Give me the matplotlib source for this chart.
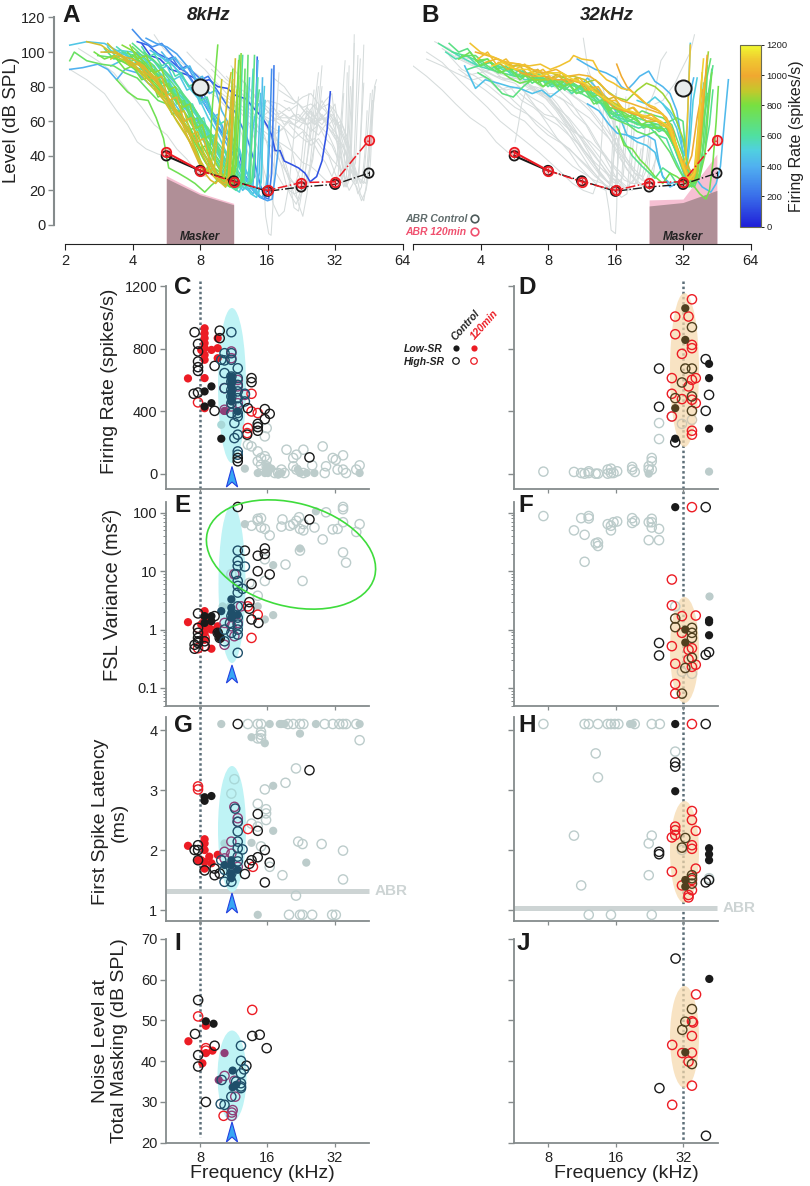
#!/usr/bin/env python3
"""Tuning curves and response metrics for units near the 8 kHz and 32 kHz maskers."""

import numpy as np
import matplotlib
matplotlib.use("Agg")
import matplotlib.pyplot as plt
from matplotlib.colors import LinearSegmentedColormap
from matplotlib.patches import Ellipse, Polygon
from matplotlib.cm import ScalarMappable

plt.rcParams['font.family'] = ['Liberation Sans', 'DejaVu Sans']

W, H = 810, 1186

# --- tuning curves: flat lists f, level, f, level ... and firing rate of each
a_rates = [130, 180, 300, 360, 400, 470, 450, 520, 560, 600, 640, 700, 730, 760, 780, 800, 820, 700, 660,
           900, 930, 920, 950, 940, 800, 500, 430, 620,
           540, 480, 580, 650, 720, 780, 830, 910, 960, 440, 240, 470]
a_curves = [
    [4.4,105, 4.8,98, 5.3,96, 5.9,90, 6.6,88, 7.3,86, 8,83, 8.8,84, 9.6,80, 10.6,79, 11.5,75, 12.8,73, 14,67, 15.2,62, 16,57, 16.7,52, 17.3,43, 18.2,43, 19,37, 20.5,35, 22,33, 23.5,30, 24.8,25, 26.5,28, 28,37, 29.5,55, 30.5,77],
    [4.2,106, 4.7,104, 5.2,99, 5.8,96, 6.3,92, 7,88, 7.7,80, 8.2,72, 8.9,64, 9.8,55, 10.8,48, 12,42, 12.5,30, 13.4,24, 14,28, 14.2,60, 14.4,97],
    [4,113, 4.4,107, 4.9,103, 5.4,105, 6,98, 6.6,92, 7.2,85, 8,76, 8.8,68, 9.5,58, 10.5,50, 11.5,42, 12.5,30, 13.5,22, 14.5,17, 15.5,15, 16,22, 16.4,55, 16.7,90],
    [4.6,108, 5.1,105, 5.7,103, 6.3,99, 7,92, 7.6,84, 8.3,76, 9,66, 10,58, 10.8,46, 11.7,36, 12.8,26, 13.8,20, 14.8,16, 16,14, 16.8,15, 17.3,28, 17.8,42, 18,57],
    [2.1,90, 2.4,91, 2.8,93, 3.1,90, 3.4,84, 3.7,90, 4.2,88, 4.7,82, 5.3,78, 5.9,75, 6.5,72, 7.1,66, 7.8,60, 8.6,52, 9.5,44, 10.5,36, 11.5,28, 12.4,22, 13.2,20, 13.8,24, 14.1,50, 14.3,80, 14.5,95],
    [2.1,104, 2.5,106, 3,105, 3.5,100, 4,96, 4.5,92, 5.1,88, 5.7,82, 6.3,74, 7,66, 7.7,58, 8.4,48, 9.2,40, 10,32, 11,26, 12,22, 12.7,26, 13,55, 13.3,85],
    [3.2,92, 3.7,96, 4.2,99, 4.7,97, 5.3,92, 5.8,86, 6.4,80, 7,72, 7.6,66, 8.2,60, 9,50, 9.8,44, 10.6,36, 11.5,28, 12.4,20, 13.2,24, 13.6,50, 14,62, 14.6,70],
    [3,100, 3.5,101, 4,100, 4.5,96, 5,91, 5.6,85, 6.2,78, 6.9,72, 7.6,65, 8.3,56, 9.1,46, 9.9,38, 10.7,28, 11.4,21, 12,19, 12.4,27, 12.7,55, 12.9,76],
    [3.4,103, 3.9,97, 4.4,94, 4.9,89, 5.5,84, 6,79, 6.7,73, 7.4,66, 8.1,60, 8.8,52, 9.6,42, 10.4,33, 11,25, 11.6,21, 12.1,24, 12.5,40, 12.9,63],
    [3.6,100, 4.1,98, 4.6,94, 5.1,88, 5.7,82, 6.3,75, 6.9,70, 7.5,62, 8.1,53, 8.8,44, 9.6,36, 10.3,28, 11,24, 11.7,26, 12,50, 12.3,88, 12.4,98],
    [4,105, 4.5,99, 5,95, 5.6,87, 6.2,80, 6.8,74, 7.5,68, 8.2,60, 9,52, 9.8,46, 10.6,40, 11.5,32, 12.3,26, 13,23, 13.6,25, 14,42, 14.4,70, 14.7,78],
    [2.8,98, 3.2,97, 3.6,95, 4.1,90, 4.6,86, 5.1,80, 5.7,72, 6.2,64, 6.9,58, 7.5,50, 8.2,42, 8.9,36, 9.6,30, 10.2,24, 10.9,22, 11.4,26, 11.7,60, 11.9,90, 12,98],
    [2.1,95, 2.2,100, 2.5,95, 2.9,93, 3.3,92, 3.7,88, 4.2,85, 4.7,78, 5.2,72, 5.7,70, 6.4,66, 7.1,58, 7.8,48, 8.4,40, 9.1,32, 9.8,27, 10.4,22, 10.9,28, 11.2,55, 11.4,80],
    [3.4,84, 3.8,77, 4.2,73, 4.7,72, 5.1,62, 5.5,50, 5.8,33, 6.4,30, 7,27, 7.6,24, 8.4,19, 9,23, 9.6,26, 10.2,29, 10.6,24, 11,46, 11.3,70],
    [3.8,100, 4.3,92, 4.8,85, 5.4,78, 6,70, 6.6,62, 7.2,52, 7.8,42, 8.2,34, 8.5,30, 8.8,38, 9.1,70, 9.4,90, 9.6,104],
    [3.3,97, 3.8,93, 4.3,89, 4.8,83, 5.3,78, 5.9,72, 6.5,62, 7.1,54, 7.7,46, 8.3,38, 8.9,32, 9.5,26, 10.1,24, 10.6,30, 11,68, 11.2,90],
    [3.6,104, 4.1,100, 4.6,93, 5.1,86, 5.7,80, 6.3,72, 6.9,64, 7.5,56, 8.1,47, 8.7,40, 9.3,33, 9.9,30, 10.5,27, 11.1,24, 11.6,34, 12,70, 12.2,99],
    [4,103, 4.5,97, 5,92, 5.5,84, 6.1,76, 6.8,70, 7.4,61, 8,54, 8.7,48, 9.4,40, 10.2,34, 11,28, 11.8,23, 12.5,27, 12.9,60, 13.1,98],
    [4.5,100, 5,95, 5.5,90, 6.1,84, 6.7,76, 7.3,70, 8,62, 8.7,56, 9.4,48, 10.1,40, 11,33, 11.9,26, 12.7,23, 13.4,25, 13.7,60, 14,98],
    [3.3,98, 3.7,95, 4.2,90, 4.7,82, 5.2,76, 5.7,70, 6.3,60, 6.9,52, 7.5,44, 8,36, 8.6,30, 9,36, 9.4,52, 9.8,68, 10,84],
    [2.5,106, 2.9,104, 3.2,100, 3.6,98, 4,92, 4.5,88, 5,80, 5.5,74, 6,68, 6.6,60, 7.2,52, 7.8,40, 8.4,33, 8.9,30, 9.4,27, 9.8,30, 10.2,52, 10.6,74, 11,88],
    [3.1,105, 3.5,98, 4,94, 4.4,88, 4.9,82, 5.4,74, 5.9,66, 6.5,58, 7.1,50, 7.7,42, 8.2,34, 8.8,30, 9.3,34, 9.6,58, 9.9,76],
    [3.5,98, 4,96, 4.5,92, 5,84, 5.6,76, 6.1,66, 6.7,58, 7.3,46, 7.9,36, 8.4,30, 8.9,26, 9.4,24, 9.9,28, 10.3,50, 10.6,60],
    [2.9,100, 3.4,100, 3.9,94, 4.4,92, 4.9,87, 5.4,80, 6,70, 6.6,62, 7.2,54, 7.8,46, 8.4,38, 9,30, 9.6,26, 10.4,22, 10.9,30, 11.3,70, 11.5,96],
    [4,98, 4.5,93, 5,85, 5.5,78, 6.1,68, 6.7,60, 7.3,54, 7.9,44, 8.5,36, 9.1,30, 9.7,26, 10.3,25, 10.9,24, 11.3,40, 11.7,75, 11.9,95],
    [5,100, 5.5,96, 6.1,92, 6.7,85, 7.3,78, 8,72, 8.7,62, 9.5,54, 10.3,44, 11.1,36, 12,30, 12.8,22, 13.5,18, 14.3,16, 15,25, 15.3,65, 15.5,80],
    [4.8,101, 5.4,97, 6,93, 6.5,88, 7.2,80, 7.9,74, 8.6,68, 9.4,58, 10.2,50, 11,42, 11.9,36, 12.7,28, 13.5,22, 14.2,18, 14.7,30, 15,55, 15.2,85],
    [3.9,92, 4.4,90, 4.9,86, 5.4,80, 6,74, 6.6,68, 7.3,60, 8,52, 8.7,44, 9.4,36, 10.2,28, 11,22, 11.6,20, 12.2,24, 12.5,50, 12.7,82],
    [3.1,103, 3.4,97, 3.7,100, 4,93, 4.3,95, 4.7,88, 5,90, 5.4,82, 5.8,84, 6.2,75, 6.6,77, 7,68, 7.4,70, 7.9,60, 8.3,62, 8.8,50, 9.3,52, 9.8,41, 10.3,43, 10.9,32, 11.4,34, 12,25, 12.6,21, 13.1,24, 13.4,46, 13.6,74, 13.8,90],
    [3.9,96, 4.2,100, 4.5,93, 4.9,96, 5.3,90, 5.7,92, 6.1,84, 6.5,86, 7,78, 7.5,80, 8,70, 8.5,72, 9,62, 9.6,64, 10.2,52, 10.8,54, 11.4,42, 12,44, 12.7,32, 13.4,26, 14,20, 14.6,18, 15,26, 15.3,58, 15.6,72],
    [4.4,103, 4.7,97, 5,99, 5.4,92, 5.8,94, 6.2,86, 6.6,88, 7.1,80, 7.6,82, 8.1,72, 8.6,74, 9.1,64, 9.7,58, 10.3,60, 10.9,48, 11.5,40, 12.1,32, 12.8,24, 13.4,22, 13.9,28, 14.2,60, 14.5,85],
    [3,102, 3.3,96, 3.6,98, 4,92, 4.4,94, 4.8,84, 5.2,86, 5.6,76, 6,78, 6.5,68, 7,70, 7.5,58, 8,60, 8.5,50, 9.1,52, 9.7,42, 10.3,36, 10.9,30, 11.5,26, 12,22, 12.5,24, 12.8,52, 13,80],
    [3.5,99, 3.8,94, 4.2,96, 4.6,88, 5,90, 5.4,80, 5.8,82, 6.3,70, 6.8,72, 7.3,60, 7.8,62, 8.3,50, 8.9,52, 9.4,40, 10,34, 10.6,28, 11.2,24, 11.8,22, 12.3,26, 12.5,55, 12.7,90],
    [2.7,100, 3,96, 3.3,98, 3.7,90, 4,92, 4.4,84, 4.8,86, 5.2,74, 5.6,76, 6,64, 6.5,66, 7,54, 7.5,56, 8,44, 8.5,46, 9,36, 9.5,30, 10,26, 10.5,24, 10.9,22, 11.2,34, 11.5,62],
    [3.9,104, 4.2,96, 4.6,98, 5,88, 5.4,90, 5.8,78, 6.2,80, 6.7,68, 7.2,70, 7.7,56, 8.2,58, 8.7,46, 9.2,38, 9.8,32, 10.3,26, 10.8,23, 11.2,26, 11.5,50, 11.7,78],
    [3.2,96, 3.5,99, 3.9,92, 4.3,94, 4.7,84, 5.1,86, 5.5,74, 5.9,76, 6.3,64, 6.8,66, 7.3,52, 7.8,54, 8.3,42, 8.8,36, 9.3,30, 9.8,28, 10.2,26, 10.6,40, 10.9,66, 11.2,84],
    [4.2,94, 4.6,88, 5,84, 5.4,86, 5.8,72, 6.3,74, 6.8,60, 7.3,62, 7.8,48, 8.3,50, 8.8,38, 9.3,32, 9.8,26, 10.3,24, 10.7,28, 11,52, 11.2,78],
    [5.4,100, 5.8,95, 6.2,97, 6.7,90, 7.2,92, 7.7,84, 8.2,86, 8.8,76, 9.4,78, 10,66, 10.6,60, 11.2,50, 11.9,44, 12.6,34, 13.4,26, 14.2,20, 15,16, 15.6,18, 16,30, 16.3,60],
    [5.6,95, 6,97, 6.5,90, 7,92, 7.5,88, 8.1,84, 8.7,86, 9.3,80, 10,74, 10.7,68, 11.4,66, 12.2,58, 13,50, 13.9,38, 14.8,24, 15.5,16, 16.2,15, 16.7,30, 17,70, 17.1,92],
    [6,72, 6.5,66, 7,68, 7.6,60, 8.2,54, 8.8,46, 9.4,48, 10,38, 10.7,32, 11.4,28, 12.2,24, 13,22, 13.8,18, 14.3,22, 14.6,46, 14.9,76],
]
a_gray = [
    [2.1,90, 2.5,84, 3,76, 3.4,66, 3.8,58, 4.2,48, 4.6,44, 5.2,41, 5.6,40, 6,38],
    [2.3,102, 2.8,95, 3.3,88, 3.8,78, 4.4,68, 5,58, 5.7,52, 6.3,44, 7,38, 7.8,30, 8.5,28, 9,40],
    [5,110, 5.5,102, 6,98, 6.6,94, 7.2,90, 8,86, 9,80, 10,74, 11,70, 12.5,66, 14,60, 15.5,52, 16.5,40, 17.5,30, 19,22, 21,18, 23,20, 25,35, 27,60, 28,80],
    [7,100, 7.6,95, 8.4,90, 9.2,84, 10.2,78, 11.2,72, 12.5,68, 14,62, 15,52, 15.7,5, 16.2,-5, 16.6,-6, 16.9,10, 17.2,40, 17.6,70],
    [9,90, 10,84, 11,80, 12,74, 13.5,66, 15,60, 17,54, 18.5,44, 20,28, 21,10, 22,8, 23,22, 24.5,45, 26,70, 27,88],
    [12,85, 13.5,78, 15,70, 17,62, 19,60, 21,58, 23,55, 25,50, 27,42, 29,36, 31,28, 32.5,35, 34,60, 35.5,95],
    [14,74, 16,68, 18,62, 20,62, 22,60, 24,58, 26,60, 28,56, 30,52, 32,44, 34,30, 35.5,22, 37,30, 38,60, 39,105],
    [15,64, 17,60, 19,64, 21,58, 23,62, 25,54, 27,58, 29,50, 31,46, 33,38, 35,28, 37,20, 38.5,24, 39.5,60, 40.5,98],
    [13,60, 15,52, 16.5,46, 18,38, 19.5,30, 21,24, 22,12, 23,5, 24,18, 25,40, 26,62, 27,80],
    [16,72, 18,70, 20,66, 22,70, 24,64, 26,60, 28,62, 30,56, 32,50, 34,46, 36,34, 38,26, 40,22, 42,14, 44,20, 46,35, 47,60, 48,80, 49,84],
    [18,66, 20,62, 22,64, 24,58, 26,62, 28,68, 30,70, 32,62, 34,56, 36,48, 38,36, 40,24, 41,30, 42,58, 43,82],
    [17,85, 19,80, 21,72, 23,68, 25,70, 27,66, 29,72, 31,76, 32,60, 33,42, 34,28, 35,22, 36,28, 36.5,60, 37,92],
    [20,58, 22,52, 24,48, 26,50, 28,44, 30,40, 32,30, 33.5,24, 35,30, 35.8,60, 36.3,88],
    [11,92, 12,86, 13,80, 14.5,72, 16,66, 17.5,60, 19,56, 20.5,44, 21.5,32, 22.5,26, 24,24, 25.5,38, 27,68, 28,92],
    [6,94, 6.8,88, 7.6,82, 8.5,78, 9.5,74, 10.5,68, 11.5,62, 12.5,50, 13.5,36, 14.5,24, 15.5,20, 16.5,30, 17.5,62, 18,88],
    [24,64, 26,58, 28,62, 30,58, 32,54, 34,48, 36,42, 38,34, 40,28, 42,26, 44,24, 45.5,38, 47,66, 48.5,80],
    [10,76, 11,72, 12,66, 13,60, 14,50, 15,38, 16,24, 17,12, 18,5, 19,8, 20,24, 21,52, 22,74],
    [30,70, 32,66, 34,60, 36,52, 38,40, 40,30, 41.5,24, 43,28, 44.5,50, 46,76],
    [19,72, 21,70, 23,74, 25,76, 27,70, 29,66, 31,60, 33,50, 34.5,36, 36,22, 37.5,28, 38.5,70, 39,110],
    [13,70, 14.5,66, 16,72, 18,64, 20,68, 22,60, 24,66, 26,62, 28,58, 30,64, 32,60, 34,52, 36,40, 38,30, 39.5,36, 40.5,70, 41.5,96],
    [15,62, 17,68, 19,58, 21,64, 23,60, 25,66, 27,60, 29,62, 31,56, 33,46, 34.5,34, 36,24, 37,28, 37.8,56, 38.3,82],
    [16,58, 18,54, 20,60, 22,56, 24,62, 26,58, 28,64, 30,58, 32,62, 34,54, 36,46, 38,38, 40,28, 41.5,18, 43,14, 44.5,26, 46,50, 47,72],
    [18,78, 20,74, 22,70, 24,64, 26,70, 28,62, 30,66, 32,58, 34,60, 36,50, 37.5,40, 39,30, 40,24, 41,34, 42,64, 43,104],
    [14,58, 15.5,54, 17,50, 19,46, 21,42, 23,36, 25,34, 27,30, 29,26, 31,24, 33,28, 34,50, 35,76],
    [17,52, 19,56, 21,50, 23,54, 25,46, 27,50, 29,44, 31,38, 33,34, 35,30, 36.5,36, 37.5,64, 38.5,84],
    [22,62, 24,68, 26,62, 28,72, 30,64, 32,70, 33,58, 34,44, 35,30, 36,36, 36.8,58, 37.5,80],
    [25,56, 27,52, 29,58, 31,54, 33,50, 35,44, 37,36, 39,26, 40.5,18, 42,22, 43.5,42, 44.5,66],
    [12,74, 13.5,70, 15,64, 16.5,58, 18,46, 19,34, 20,26, 21,18, 22,14, 23,20, 24,38, 25,60, 25.8,78],
    [10.5,86, 11.5,80, 12.7,74, 14,68, 15.4,60, 17,48, 18.5,34, 19.5,22, 20.5,16, 21.5,12, 22.5,20, 23.5,44, 24.5,64],
    [8.5,96, 9.5,90, 10.5,84, 11.7,80, 13,76, 14.4,68, 16,60, 17.4,48, 18.8,36, 20,26, 21.3,24, 22.5,34, 23.5,58, 24.5,76],
    [27,66, 29,60, 31,64, 33,58, 35,50, 37,42, 39,32, 41,26, 43,24, 44.5,34, 46,58, 47,78],
]
b_rates = [1080, 420, 450, 430, 780, 620, 560, 700, 760, 640, 900, 1040, 1000, 1120, 1000, 670, 640, 850, 500, 480,
           660, 760, 1060, 580, 950, 720]
b_curves = [
    [3.6,105, 4,100, 4.6,97, 5.2,94, 5.9,93, 6.6,92, 7.4,93, 8.2,90, 9,92, 10,95, 10.4,98, 11.3,96, 12.7,95, 13.6,88, 14.6,84, 15.7,82, 17,79, 18.5,78, 20,75, 22,70, 24,68, 26,64, 28,58, 29.5,48, 31,40, 32,33, 33,40, 33.7,70, 34.5,104],
    [10.8,96, 11.8,93, 13,90, 14.5,88, 16,85, 17,80, 18,78, 19.3,82, 20.5,86, 22.5,89, 24,83, 26,80, 28,76, 30,66, 31,55, 32,40, 33,32, 34,50, 35,80, 35.7,85],
    [3.4,92, 3.8,79, 4.2,84, 4.8,82, 5.4,80, 6,79, 6.8,76, 7.5,78, 8.2,74, 9,78, 10,82, 11,80, 12,85, 13,80, 14,76, 15,72, 16.2,65, 17,60, 18,52, 20,48, 22,46, 24,42, 26,28, 28,24, 30,25],
    [12,70, 13.5,66, 15,58, 16.3,53, 18,52, 20,50, 22,52, 24,49, 25,36, 26,28, 28,22, 30,24, 33,30, 36,28, 39,22, 42.6,19, 45,24, 47,34, 49,60, 51,84],
    [16.5,55, 17.5,46, 19,44, 20.5,38, 22,34, 24,28, 26,24, 28,30, 30,28, 33,24, 36,22, 38,18, 40.5,15, 42,20, 43.5,36, 45,60, 46,80],
    [2.6,105, 3,100, 3.4,98, 3.9,95, 4.4,90, 5,88, 5.7,86, 6.5,86, 7.4,83, 8.4,85, 9.5,82, 10.7,80, 12,78, 13.5,72, 15,65, 16.5,62, 18.5,60, 20.5,58, 23,58, 25.5,56, 28,52, 30,42, 32,32, 33.5,24, 35,22, 37,34, 38.5,60, 40,82],
    [3,100, 3.4,96, 3.9,92, 4.4,94, 5,90, 5.6,88, 6.3,84, 7.1,85, 8,82, 9,80, 10,82, 11.3,78, 12.7,76, 14,70, 15.5,64, 17,60, 19,60, 21,58, 24,56, 27,54, 29,46, 31,36, 33,26, 35,24, 37,30, 38.5,55, 39.5,78, 41,92],
    [3.3,98, 3.8,98, 4.3,92, 4.8,88, 5.4,90, 6,86, 6.8,88, 7.7,86, 8.7,82, 9.8,84, 11,80, 12.4,80, 13.8,74, 15.2,70, 17,64, 19,62, 21,66, 23,64, 26,62, 28.5,58, 30,50, 32,40, 34,28, 36,25, 38,28, 39.5,50, 41,86, 42.5,96],
    [3.8,95, 4.3,96, 4.8,90, 5.4,85, 6,82, 6.8,84, 7.6,80, 8.5,84, 9.5,80, 10.7,84, 12,80, 13.5,77, 15,68, 17,66, 19,62, 21,58, 23,56, 26,56, 28,50, 30,44, 32,36, 34,30, 36,24, 38,28, 40,40, 41.5,66, 43,88],
    [3.5,90, 3.9,92, 4.4,94, 5,91, 5.6,90, 6.4,88, 7.2,86, 8.1,83, 9.1,84, 10.3,82, 11.5,78, 13,76, 14.5,72, 16,68, 18,66, 20,62, 22,60, 25,58, 27.5,52, 29.5,44, 31.5,34, 33.5,27, 35.5,24, 37.5,32, 39,56, 41,72, 43.5,92],
    [5,94, 5.6,92, 6.4,92, 7.2,88, 8.2,88, 9.2,86, 10.4,86, 11.7,84, 13,78, 14.5,74, 16,70, 18,66, 20,64, 22,60, 24.5,60, 27,58, 29,50, 31,40, 33,30, 35,26, 36.5,30, 38,50, 39.5,74],
    [4.2,94, 4.7,96, 5.3,94, 6,93, 6.8,90, 7.7,88, 8.7,90, 9.8,86, 11,87, 12.3,86, 13.6,82, 15,76, 17,72, 19,70, 21,68, 23.5,66, 26,64, 28,56, 30,46, 32,36, 34,28, 36,28, 37.5,44, 39,70],
    [3.8,100, 4.3,98, 4.8,96, 5.4,92, 6.1,88, 6.9,86, 7.8,86, 8.8,84, 10,84, 11.2,82, 12.6,78, 14,74, 15.7,68, 17.5,66, 19.5,64, 22,62, 24.5,60, 27,58, 29,48, 31,40, 33,34, 35.5,30, 37.5,38, 39,62, 41,98],
    [4.5,92, 5,94, 5.7,90, 6.5,90, 7.3,86, 8.2,88, 9.2,88, 10.4,84, 11.7,82, 13.2,76, 14.8,72, 16.5,68, 18.5,66, 20.5,64, 23,62, 25.5,60, 28,56, 30,44, 32,34, 34,26, 36,30, 37.5,55, 38.5,80, 39.5,96],
    [16.2,93, 17,86, 18,80, 19.4,76, 21,72, 23,68, 25,66, 27,62, 29,54, 30,44, 31,38, 33,32, 35,40, 37,62, 39,78],
    [3.9,88, 4.4,84, 5,76, 5.6,74, 6.2,80, 7,86, 7.9,84, 8.9,80, 10,78, 11.3,76, 12.8,72, 14.3,70, 16,64, 18,62, 20,58, 22,58, 25,58, 28,60, 30,62, 32,60, 33,40, 34.5,26, 36,22, 38,30, 40,50, 41.5,72, 43,90],
    [16.2,57, 17.5,48, 19,40, 21,34, 24,27, 26,33, 28,30, 30,24, 33,22, 36,24, 38,30, 40,42, 42,58, 43.5,78],
    [6,88, 7,84, 8,84, 9,86, 10,84, 11.5,82, 13,84, 14.5,78, 16,74, 18,72, 20,78, 22,82, 24,80, 26,76, 28,70, 30,60, 32,50, 33.5,36, 35,28, 37,26, 38.5,48, 40,80, 41.5,100],
    [20,72, 22,70, 24,74, 26,70, 28,66, 30,60, 32,48, 33.5,36, 34.5,50, 35.5,72, 37,85],
    [26,70, 28,64, 30,56, 31.5,46, 32.5,40, 33.5,60, 34,84, 34.5,105],
    [2.9,105, 3.2,100, 3.5,102, 3.9,94, 4.3,96, 4.7,90, 5.2,92, 5.7,86, 6.2,88, 6.8,82, 7.4,85, 8,80, 8.7,84, 9.5,78, 10.3,82, 11.2,76, 12.2,80, 13.2,70, 14.3,74, 15.5,64, 16.8,66, 18.2,60, 19.7,62, 21.3,56, 23,58, 25,54, 27,56, 29,46, 31,38, 33,30, 35,26, 37,34, 38.5,62, 40,74],
    [3.2,96, 3.6,100, 4,92, 4.4,95, 4.9,88, 5.4,91, 6,84, 6.6,88, 7.2,82, 8,86, 8.8,80, 9.6,84, 10.5,78, 11.5,82, 12.6,74, 13.7,76, 15,66, 16.3,70, 17.7,62, 19.2,64, 20.8,58, 22.6,60, 24.5,56, 26.5,58, 28.5,50, 30.5,42, 32.5,32, 34.5,24, 36.5,26, 38,46, 39.5,70, 41,92],
    [3.9,96, 4.3,100, 4.7,93, 5.2,96, 5.7,90, 6.3,93, 6.9,87, 7.6,90, 8.4,84, 9.2,88, 10.1,82, 11.1,85, 12.2,78, 13.4,80, 14.7,72, 16.1,72, 17.6,66, 19.3,68, 21.2,62, 23.2,64, 25.4,58, 27.6,56, 29.5,46, 31.5,36, 33.5,28, 35.5,26, 37,40, 38.5,66, 40,84],
    [2.8,100, 3.1,96, 3.5,98, 3.9,92, 4.4,90, 4.9,93, 5.5,87, 6.1,90, 6.8,84, 7.5,86, 8.3,80, 9.2,82, 10.2,76, 11.3,80, 12.5,74, 13.8,70, 15.2,62, 16.7,64, 18.4,58, 20.3,56, 22.3,58, 24.5,52, 27,50, 29,40, 31,32, 33,25, 35,22, 36.5,28, 38,52, 39.5,82],
    [4.8,94, 5.3,90, 5.9,93, 6.5,87, 7.2,90, 8,84, 8.8,87, 9.7,82, 10.7,85, 11.8,78, 13,80, 14.3,72, 15.8,74, 17.4,66, 19.1,68, 21,62, 23,64, 25.3,60, 27.5,56, 29.5,48, 31,38, 32.5,30, 34,26, 36,32, 37.5,58, 39,88],
    [6.5,82, 7,86, 7.6,80, 8.2,84, 9,78, 9.8,82, 10.7,76, 11.7,78, 12.8,70, 14,72, 15.3,62, 16.7,60, 18.2,58, 20,54, 22,52, 24,54, 26,48, 28,42, 30,34, 32,28, 34,22, 36,24, 38,40, 39.5,60, 41,76],
]
b_gray = [
    [2.5,106, 2.9,102, 3.3,96, 3.8,92, 4.3,86, 4.9,80, 5.6,72, 6.3,66, 7.1,58, 8,52, 9,48, 10,44, 11,38, 12,33, 13,28, 14,25, 15,20, 15.3,30, 15.7,60, 16,70],
    [2,92, 2.3,86, 2.7,78, 3.1,70, 3.6,62, 4.2,56, 4.7,48, 5.3,42, 5.8,40],
    [2.3,100, 2.7,94, 3.2,84, 3.7,76, 4.3,68, 4.9,60, 5.6,54, 6.4,48, 7.3,42, 8.2,36, 9.2,30, 10.3,24, 11.5,20, 12.7,18, 13.5,28, 13.9,50, 14.2,72],
    [2.7,102, 3.2,96, 3.7,92, 4.3,88, 5,84, 5.7,82, 6.2,78, 6.9,70, 7.8,60, 8.8,50, 10,42, 11,34, 12.2,28, 13.5,22, 14.5,20, 15,8, 15.3,-3, 16,-5, 16.2,10, 16.4,50],
    [5.7,48, 5.9,58, 6.1,70, 6.4,78, 7,80, 7.8,78, 8.8,70, 10,60, 11.2,50, 12.5,42, 14,34, 15.2,26, 16,24],
    [3.1,98, 3.6,96, 4.1,90, 4.7,86, 5.4,84, 6.2,82, 7,78, 8,74, 9,66, 10,58, 11.2,50, 12.4,40, 13.5,30, 14.5,26, 15.3,24, 15.7,40, 16,62, 16.3,86],
    [11.5,108, 12,92, 12.5,84, 13.2,78, 14,70, 15,60, 16,48, 17,38, 18.5,30, 20,24, 21.5,22, 23,30, 24.5,40],
    [3.6,94, 4.1,92, 4.7,88, 5.3,86, 6,84, 6.8,80, 7.7,74, 8.7,66, 9.8,56, 11,46, 12.4,36, 13.8,28, 15,24, 16.2,20, 17,24, 17.5,50, 17.8,74],
    [4.4,92, 5,88, 5.7,86, 6.5,82, 7.3,78, 8.2,72, 9.2,64, 10.3,54, 11.5,44, 13,34, 14.5,26, 16,20, 17,16, 18,18, 18.6,40, 19,60],
    [24,70, 26,72, 28,78, 29.5,82, 31,88, 33,95, 34.5,100, 36,110],
    [20,58, 22,66, 24,78, 25.5,95, 27,100],
    [5,90, 5.7,88, 6.5,86, 7.4,80, 8.3,72, 9.3,62, 10.5,50, 11.8,42, 13,36, 14.5,30, 16,26, 17.2,22, 18.4,20, 19,40, 19.5,60],
    [2.3,96, 2.7,92, 3.1,88, 3.6,84, 4.2,78, 4.8,72, 5.5,64, 6.3,60, 7.2,52, 8.2,46, 9.2,40, 10.3,34, 11.5,30, 12.8,26, 14,24, 15,22, 15.6,36, 16,50],
    [7,90, 8,82, 9,78, 10,72, 11,64, 12.2,56, 13.5,46, 14.8,36, 16,28, 17.5,22, 19,20, 20.5,30, 21.5,50, 22,70],
    [6.6,80, 7.4,76, 8.4,76, 9.4,72, 10.5,64, 11.8,58, 13,48, 14.5,40, 16,32, 17.5,26, 19,24, 20,30, 20.8,44],
    [8,84, 9,80, 10,76, 11,72, 12.3,66, 13.7,58, 15,50, 16.5,40, 18,32, 19.8,26, 21.5,22, 22.5,30, 23,48],
    [3.2,90, 3.7,84, 4.2,86, 4.8,78, 5.4,80, 6.1,72, 6.9,68, 7.8,62, 8.8,58, 9.9,52, 11.1,46, 12.4,38, 13.8,30, 15,24, 15.9,20, 16.4,36, 16.8,62],
    [4,88, 4.5,90, 5.1,84, 5.7,86, 6.4,80, 7.2,76, 8.1,72, 9.1,64, 10.2,56, 11.4,50, 12.7,42, 14,34, 15.2,28, 16.3,24, 17.3,28, 17.9,50, 18.4,70],
    [2.9,98, 3.3,90, 3.8,86, 4.4,80, 5,74, 5.7,68, 6.5,64, 7.4,58, 8.4,52, 9.5,46, 10.7,40, 12,34, 13.3,28, 14.5,22, 15.4,20, 15.8,44, 16,76],
    [4.8,86, 5.4,84, 6.1,86, 6.9,78, 7.8,76, 8.8,68, 9.9,62, 11.1,54, 12.4,46, 13.8,38, 15.2,30, 16.6,26, 18,22, 19.2,26, 20,48],
    [3.4,86, 3.9,88, 4.5,82, 5.2,78, 5.9,80, 6.7,74, 7.6,70, 8.6,62, 9.7,54, 10.9,44, 12.2,34, 13.6,26, 14.8,22, 15.8,18, 16.3,30, 16.6,56],
    [9,74, 10,70, 11,66, 12.2,62, 13.5,56, 15,50, 16.5,42, 18,36, 19.5,30, 21,26, 22.5,24, 23.5,28, 24.5,44],
    [6,76, 6.8,70, 7.7,64, 8.7,62, 9.8,56, 11,52, 12.4,48, 13.8,42, 15.3,36, 17,30, 18.7,24, 20,24, 21,36, 21.8,60],
    [7.5,88, 8.5,86, 9.5,80, 10.6,74, 11.9,70, 13.3,62, 14.8,54, 16.4,46, 18,38, 19.5,30, 21,28, 22,38, 23,62],
    [12,88, 12.8,78, 13.5,68, 14.5,60, 15.5,50, 16.5,44, 18,36, 19.5,30, 21,26, 22,32, 23,50],
    [14,80, 14.7,70, 15.5,60, 16.2,50, 17,44, 18,38, 19.5,32, 21,28, 22,24, 23,30],
]

# --- ABR thresholds
abr_freq = [5.66, 8, 11.3, 16, 22.6, 32, 45.3]
abr_ctrl = [40, 31.5, 25.5, 19.5, 22, 23.5, 30]
abr_120 = [42, 31.5, 25, 20, 24.5, 25, 49]
abr_ctrl_err = [1, 1, 1, 2, 1, 1, 1.5]
abr_120_err = [1.5, 1.5, 1.5, 2.5, 2, 1.5, 2.5]

# --- maskers
masker_a_f = [5.66, 8, 11.3]
masker_a_pink = [28.5, 18.5, 12.5]
masker_a_brown = [27, 17.5, 11.7]
masker_b_f = [22.6, 32, 45.3]
masker_b_pink = [14.5, 15, 41]
masker_b_brown = [11, 13, 20]

# --- unit scatter, panels C / E / G / I (8 kHz), flat f, value lists
c_gray_open = [13.1,187, 13.6,176, 14.5,144, 15.6,113, 15,102, 14.5,81, 15,59, 15.9,91, 15.6,240, 15.9,293, 14.5,304, 15.9,49, 17.3,6, 17.9,6, 18.5,28, 19.5,155, 20.9,102, 21.6,123, 23.2,155, 25.4,55, 28.3,176, 29.3,49, 28.9,6, 31.4,102, 32.4,91, 34.9,119, 33,28, 34.9,28, 36,6, 41.4,55, 40,28, 21.6,28, 23.2,6, 19.1,6, 20.9,49]
c_gray_fill = [12.7,34, 14.5,6, 15.6,6, 16.1,6, 16.7,34, 17.9,-4, 18.5,6, 21.9,28, 22.4,6, 24,6, 26,6, 41.4,6, 9.96,314, 15.9,49]
c_black_open = [7.57,905, 7.84,830, 7.84,782, 7.84,718, 7.84,682, 7.84,658, 7.5,512, 7.84,520, 9.8,915, 9.8,867, 9.3,690, 9.3,403, 13.6,612, 13.6,586, 15.6,414, 16.4,384, 15.6,350, 14.5,320, 14.5,299, 14.5,276, 13,251, 24.7,106,
                11.05,905, 10.3,771, 9.96,729, 10.3,725, 10.3,644, 11.05,771, 11.05,729, 11.8,675, 11.05,622, 11.05,590, 11.8,612, 11.8,569, 10.3,548, 11.05,537, 11.8,527, 11.05,495, 11.8,484, 12.7,512, 11.05,452, 11.8,431, 12.7,463, 11.8,389, 11.8,367, 11.05,389, 13.1,420, 11.4,325, 11.8,251, 11.4,229, 11.8,144, 11.8,123, 11.8,102, 11.8,81]
c_black_fill = [8.39,527, 9,559, 8.39,431, 9,452, 9.96,225, 11.05,622, 11.05,590, 11.05,559, 11.05,527, 11.05,495, 11.05,463, 11.8,399, 11.05,610]
c_red_open = [7.84,457, 13.6,512, 13.6,399, 14.5,389, 13.1,293, 13,261, 11.05,782, 11.05,739, 11.8,600, 11.8,559, 10.3,410, 12.7,505, 11.8,452, 11.05,431, 10.3,548]
c_red_fill = [8.39,930, 8.39,898, 8.39,867, 8.39,835, 8.39,803, 8.1,792, 8.39,760, 9,792, 9.6,803, 9.6,739, 8.39,729, 7.07,610, 8.39,612, 8.39,420, 9.6,867, 10.3,403]

e_gray_open = [13.6,60, 14.5,73, 15,81, 14.5,79, 15,56, 15.6,53, 16.4,41, 18.7,77, 18.5,58, 20.2,60, 20.9,64, 21.6,73, 22.2,84, 23.2,64, 22.4,53, 23.2,50, 26,56, 29.3,102, 34.9,126, 34.9,115, 31.4,52, 33,53, 34.9,69, 41.4,64, 40,47, 28.3,35, 34.9,21, 36,14, 22.4,22.5, 19.3,13, 23,6.8, 15.6,6.8, 14.5,3.8, 13.3,6.3, 11.05,8.9, 15.6,16]
e_gray_fill = [12.7,64, 26.4,106, 22.4,24.5, 17,12.7, 17,1.77, 15.6,1.49, 14.5,2.5, 10.1,2.5, 10.9,2.5]
e_black_open = [11.8,126, 24.7,77, 15.6,24.5, 15.6,19.7, 12.7,22.5, 14.5,18.4, 12.7,12, 14.5,10, 16.4,8.8, 13.6,6, 13.3,2.95, 13.3,2.27, 13.6,1.49, 14.6,1.3, 7.84,1.89, 7.84,1.07, 7.84,.88, 7.84,.72, 7.84,.63, 7.57,.55, 7.57,.47, 7.84,.59, 8.39,.52, 8.39,.63, 9.3,1.7, 9.6,.88, 9.8,.72, 10.3,.63, 11.8,.4,
                11.8,22.5, 11.8,15, 11.8,12.3, 11.6,8.9, 11.8,6.8, 11.8,5.6, 12.4,5, 11.8,4.3, 11.8,2.5, 11.05,1.7, 10.9,1.3, 11.8,1.6, 11.8,1.22, 11.8,1, 11.05,.88, 10.3,1, 11.8,.82]
e_black_fill = [8.39,1.7, 8.39,1.3, 9,1.7, 9,1.39, 9.96,2.07, 11.05,3.3, 11.05,2.36, 11.05,1.94, 11.05,1.6, 11.8,1.8, 9.6,.88, 9.8,.72]
e_red_open = [13.6,.72, 14.5,1.8, 11.4,8.9, 8.39,.52, 8.39,.72, 7.84,.48, 10.3,.55, 13.1,2.5, 12.2,2.5, 11.05,1.14, 10.3,1.3, 11.4,.77, 11.8,1.3, 7.84,1.07]
e_red_fill = [7.07,1.34, 8.39,2.07, 8.39,1.49, 8.39,1.14, 8.7,1.14, 9,1, 8.39,.88, 9,.47, 9.6,1.14, 8.1,1.22, 8.39,.67]

g_gray_open = [13.1,4.1, 14.5,4.1, 15,4.1, 19.8,4.1, 20.9,4.1, 22.4,4.1, 23.2,4.1, 28.9,4.1, 31.4,4.1, 33.6,4.1, 34.9,4.1, 36,4.1, 40,4.1,
               15,3.97, 15,3.92, 15,3.86, 14.5,3.86, 41.4,3.83, 21.5,3.36, 19.3,3.12, 15.6,3.01, 11.4,3.18, 11.05,2.94, 14.5,2.77, 15.8,2.68, 15.8,2.61, 15.8,2.5, 13.6,2.44, 14.5,2.39, 15,2.06, 22,2.14, 23,2.1, 28,2.1, 34.9,1.99, 16.4,1.72, 18.7,1.58, 34.9,1.51, 21.5,1.24, 20,.92, 22.4,.92, 23,.92, 25.4,.92, 31.2,.92, 32.4,.92]
g_gray_fill = [9.96,4.1, 16.4,4.1, 18.2,4.1, 18.5,4.1, 19.1,4.1, 26.4,4.1, 41.4,4.1, 13.6,3.88, 22.4,3.94, 15.6,3.78, 17,3.07, 17,2.32, 13.6,2.12, 23.9,1.79, 14.5,.92, 10.3,2.11]
g_black_open = [11.8,4.1, 24.7,3.33, 14.5,2.6, 14.5,2.32, 15.6,2, 14.5,1.88, 16.4,1.79, 15.6,1.46, 12.7,1.6, 13.6,1.83, 13.3,1.77, 7.57,2, 7.84,2.08, 7.84,2, 7.84,1.83, 8.39,1.66, 9.3,1.69, 9.3,1.58, 9.96,1.83, 9.8,1.61, 10.3,1.47,
                11.5,2.69, 11.8,2.47, 11.8,2.31, 11.8,2.14, 11.8,2.03, 12.4,2.01, 11.8,1.89, 11.05,1.69, 11.05,1.61, 11.05,1.47, 11.8,1.81, 10.3,1.67]
g_black_fill = [8.39,2.88, 9,2.9, 8.39,2.82, 11.05,1.83, 11.8,1.67, 11.05,1.75, 10.3,1.75, 11.05,1.61, 11.05,1.53]
g_red_open = [7.84,3.06, 7.84,3.01, 13.1,2.35, 11.4,2.72, 11.8,2.53, 11.8,2.47, 11.05,2.14, 10.3,1.97, 11.05,1.94, 10.3,1.86, 13.8,1.72, 11.8,1.72]
g_red_fill = [7.07,2.07, 8.39,2.18, 8.39,2.11, 8.39,2, 7.84,1.83, 8.39,1.8, 9,1.78, 9.6,1.92, 8.1,1.83, 8.39,1.69, 8.8,1.89]

i_black_open = [7.85,55, 7.6,46.7, 7.85,41.5, 7.85,38.7, 9.3,43.8, 8.5,30, 9.9,29.5, 10.3,29.3, 13.7,46.2, 14.8,46.5, 15.9,43.2, 12.9,38.9,
                12.2,43.8, 12.2,40.1, 12.6,38, 12.2,37, 10,35.4, 11.6,35, 12.2,34.6, 12.2,33.8, 12.2,33.4, 11.05,31.3]
i_black_fill = [8.5,49.8, 9.2,49.2, 11.2,37.7, 11.2,33.6, 11.6,34.2]
i_red_open = [7.85,51, 13.7,52.6, 8.5,43.2, 8.5,42.6, 10.3,36.4, 11.4,35.2, 11.5,31.3, 11.2,28, 11.1,27.4, 10.2,26.6, 11.1,26.6]
i_red_fill = [7.1,44.9, 8.5,48.7, 8.5,42, 9.1,42.6, 8.2,39.5, 9.7,35.4, 10.3,42]

# --- unit scatter, panels D / F / H / J (32 kHz)
d_gray_open = [7.6,15, 10.4,13, 11.2,6, 11.6,2, 12.1,17, 12.1,6, 13,2, 13.3,2, 14.7,28, 15.2,34, 15.2,6, 14.7,2, 15.6,6, 16.2,17, 18.9,45, 18.9,28, 19.4,13, 22.4,49, 22.4,28, 23.1,102, 23.1,81, 23.1,28, 24.9,325, 24.9,223, 28.4,367, 31.5,320, 34.9,346]
d_gray_fill = [22.4,2, 41.6,15]
d_black_open = [24.9,673, 24.9,429, 29.4,202, 40.2,733, 41.6,505, 40.2,403, 34.9,937, 32.6,673, 34.9,673, 31.5,584, 34.9,495, 29.4,484, 34.9,403]
d_black_fill = [41.6,703, 41.6,612, 41.6,289, 29.4,225, 32.6,1058, 32.6,856, 29.4,420]
d_red_open = [34.9,1115, 29.4,1005, 33.7,1005, 29.4,892, 34.9,824, 34.9,803, 31.5,767, 28.4,612, 34.9,601, 36.3,612, 33.7,559, 28.4,512, 31.5,478, 34.9,474, 36.3,452, 28.4,367, 34.9,276, 34.9,251]

f_gray_open = [7.6,88, 10.4,50, 11.2,81, 11.6,42, 12.1,88, 12.1,80, 13,30, 13.3,31, 13.3,27, 11.6,14.5, 14.7,64, 15.2,60, 15.2,50, 15.6,69, 16.2,71, 18.9,81, 18.9,67, 19.4,72, 22.4,69, 22.4,34, 23.1,79, 23.1,69, 23.1,56, 24.9,53, 24.9,34, 29.4,2.5, 31.5,.19, 34.9,.175]
f_gray_fill = [41.6,3.76]
f_black_open = [40.2,125, 24.9,.59, 24.9,.36, 40.2,.37, 41.6,.41, 29.4,1.55, 29.4,1.1, 34.9,1.07, 34.9,.88, 34.9,.72, 34.9,.33, 32.6,.22, 31.5,.08]
f_black_fill = [29.4,125, 41.6,1.45, 41.6,1.34, 41.6,.8, 32.6,1, 32.6,.6]
f_red_open = [34.9,125, 28.4,7.2, 28.4,2.6, 31.5,1.7, 36.3,1.74, 31.5,.88, 28.4,.52, 34.9,.48, 33.7,.45, 33.7,.31, 29.4,.26, 36.3,.25, 34.9,.23, 29.4,.117, 29.4,.08]

h_gray_open = [7.6,4.1, 11.6,4.1, 12.1,4.1, 13.3,4.1, 14.7,4.1, 15.2,4.1, 15.8,4.1, 16.4,4.1, 19.4,4.1, 23.1,4.1, 25.1,4.1,
               13,3.61, 29.4,3.64, 13.3,3.21, 10.4,2.24, 23.1,2.24, 22.4,2.11, 22.4,1.58, 11.2,1.41, 12.1,.92, 15.2,.92, 23.1,.92, 41.6,1.53, 31.5,2]
h_gray_fill = [18.5,4.1, 19,4.1]
h_black_open = [40.2,4.1, 29.4,3.46, 29.4,3.39, 24.9,1.97, 24.9,1.93, 40.2,1.46, 41.6,1.5, 32.6,2.2, 31.5,2.04, 34.9,1.58, 34.9,1.53, 34.9,1.44]
h_black_fill = [29.4,4.1, 29.4,2.98, 41.6,2.03, 41.6,1.93, 41.6,1.83, 32.6,1.5, 32.6,1.39]
h_red_open = [34.9,4.1, 34.9,2.65, 34.9,2.5, 36.3,2.32, 29.4,2.39, 29.4,2.33, 28.4,2.21, 29.4,2.25, 34.9,2.08, 34.9,2.02, 36.3,1.69, 28.4,1.64, 34.9,1.5, 31.5,1.41, 34.9,1.33, 33.7,1.25, 33.7,1.21]

j_black_open = [29.5,65.2, 25,33.4, 40.3,21.7, 34.9,52.8, 32.6,49.7, 31.6,47.7, 34.9,39.3]
j_black_fill = [41.7,60.2, 32.6,42.2]
j_red_open = [36.4,56.4, 34.9,49.8, 35.3,49.5, 34.9,46.2, 28.5,44, 31.6,42, 34.9,42.1, 33.7,39.9, 34.9,34, 28.5,29.3]

rate_ticks = [0, 400, 800, 1200]
fsl_ticks = [0.1, 1, 10, 100]
fsl_labels = ['0.1', '1', '10', '100']
lat_ticks = [1, 2, 3, 4]
noise_ticks = [20, 30, 40, 50, 60, 70]
level_ticks = [0, 20, 40, 60, 80, 100, 120]
octave_ticks = [2, 4, 8, 16, 32, 64]
freq_ticks = [8, 16, 32]

# colours
RATE_CMAP = LinearSegmentedColormap.from_list('rate', [
    (0.0, '#2020d8'), (0.17, '#3a70ea'), (0.33, '#50b0f0'), (0.42, '#50d0e0'), (0.5, '#50e0a0'),
    (0.67, '#78e040'), (0.75, '#c4c82c'), (0.83, '#f0a830'), (0.92, '#f0c830'), (1.0, '#f0f830')])
BLACK, RED = '#1a1a1a', '#ec1c24'
GRAY_PT = '#bccccb'
LINE_GRAY = '#d6dcdc'
SPINE = '#858b8c'
DOT = '#5c6e78'
TINTS = {
    'cyan': {BLACK: '#1f4f6a', RED: '#8f3f78', GRAY_PT: '#a9d8d8'},
    'tan': {BLACK: '#4f401f', RED: RED, GRAY_PT: '#cfc8b4'},
}


def px_axes(x0, x1, y_top, y_bot, **kw):
    """axes placed in reference pixel coordinates (y measured from the top)"""
    return fig.add_axes([x0 / W, 1 - y_bot / H, (x1 - x0) / W, (y_bot - y_top) / H], **kw)


fig = plt.figure(figsize=(W / 100, H / 100), dpi=100)

# overlay behind the panels: dotted lines, shaded ellipses, arrows
under = fig.add_axes([0, 0, 1, 1], zorder=0)
under.set_xlim(0, W)
under.set_ylim(H, 0)
under.axis('off')
# overlay above the panels: green ellipse, labels
over = fig.add_axes([0, 0, 1, 1], zorder=5)
over.set_xlim(0, W)
over.set_ylim(H, 0)
over.axis('off')

under.plot([200, 200], [281, 1137], color=DOT, lw=1.8, ls=(0, (1.0, 1.05)), zorder=1)
under.plot([683, 683], [281, 1140], color=DOT, lw=1.8, ls=(0, (1.0, 1.05)), zorder=1)

cyan_regions = [(232, 385.5, 28, 155), (232, 584, 27, 158), (232, 829, 28, 126), (232, 1076, 29, 91)]
tan_regions = [(684.5, 370, 29, 154), (684.5, 650, 29, 106), (684.5, 852, 29, 102), (684.5, 1037, 29, 102)]
for cx, cy, w, h in cyan_regions:
    under.add_patch(Ellipse((cx, cy), w, h, fc='#bff3f5', ec='none', zorder=2))
for cx, cy, w, h in tan_regions:
    under.add_patch(Ellipse((cx, cy), w, h, fc='#f6d9ac', ec='none', alpha=0.72, zorder=2))
for y_tip, y_end in [(466.5, 487), (665, 683), (893, 913), (1122, 1142)]:
    under.add_patch(Polygon([(232, y_tip), (237.6, y_end), (232, y_end - 5), (226.4, y_end)], closed=True,
                            fc='#37a6f4', ec='#2340e0', lw=0.8, zorder=3))

# ABR reference bands
under.plot([166, 369], [891, 891], color='#cdd4d4', lw=3.6, solid_capstyle='butt', zorder=1.5)
under.plot([514, 717], [908, 908], color='#cdd4d4', lw=3.6, solid_capstyle='butt', zorder=1.5)
over.text(375, 891, 'ABR', color='#cdd4d4', fontsize=11, fontweight='bold', va='center', ha='left')
over.text(723, 908, 'ABR', color='#cdd4d4', fontsize=11, fontweight='bold', va='center', ha='left')

over.add_patch(Ellipse((291, 554.5), 173, 103.2, angle=15, fc='none', ec='#3fdc3c', lw=1.2))


def draw_curves(ax, curves, rates=None):
    order = range(len(curves)) if rates is None else np.argsort(rates)
    for i in order:
        pts = np.array(curves[i]).reshape(-1, 2)
        if rates is None:
            ax.plot(pts[:, 0], pts[:, 1], color=LINE_GRAY, lw=0.75, zorder=1)
        else:
            ax.plot(pts[:, 0], pts[:, 1], color=RATE_CMAP(rates[i] / 1200), lw=1.15, zorder=2 + rates[i] / 2000)


def draw_abr(ax):
    ax.plot(abr_freq[:2], abr_ctrl[:2], color=BLACK, lw=1.5, zorder=6)
    ax.plot(abr_freq[1:], abr_ctrl[1:], color=BLACK, lw=1.0, ls='-.', zorder=6)
    ax.errorbar(abr_freq, abr_ctrl, yerr=abr_ctrl_err, fmt='none', ecolor=BLACK, elinewidth=0.8, zorder=6)
    ax.scatter(abr_freq, abr_ctrl, s=46, fc='none', ec=BLACK, lw=1.3, zorder=7)
    ax.plot(abr_freq[:2], abr_120[:2], color=RED, lw=1.5, zorder=8)
    ax.plot(abr_freq[1:], abr_120[1:], color=RED, lw=1.1, ls='-.', zorder=8)
    ax.errorbar(abr_freq, abr_120, yerr=abr_120_err, fmt='none', ecolor=RED, elinewidth=0.8, zorder=8)
    ax.scatter(abr_freq, abr_120, s=46, fc=(0.93, 0.11, 0.14, 0.25), ec=RED, lw=1.3, zorder=9)


def style_top(ax, labels):
    ax.set_xscale('log', base=2)
    ax.set_xticks(octave_ticks)
    ax.set_xticklabels(labels, fontsize=10.5, color='#222222')
    ax.xaxis.set_minor_locator(plt.NullLocator())
    ax.spines[['top', 'right']].set_visible(False)
    ax.spines['bottom'].set_bounds(2, 64)
    ax.spines['bottom'].set_linewidth(0.8)
    ax.spines['bottom'].set_color('#222222')
    ax.tick_params(axis='x', length=4, width=0.8, color='#222222', pad=3)
    ax.patch.set_visible(False)


# --- panel A
ax_a = px_axes(54, 402.5, 17.5, 244, zorder=2)
ax_a.set_xlim(2 * 2 ** (-11 / 67.5), 64)
ax_a.set_ylim(-11, 120)
style_top(ax_a, [str(t) for t in octave_ticks])
ax_a.spines['left'].set_bounds(0, 120)
ax_a.spines['left'].set_color(SPINE)
ax_a.spines['left'].set_linewidth(1.5)
ax_a.set_yticks(level_ticks)
ax_a.tick_params(axis='y', length=4, width=1, color=SPINE, labelsize=10.5, labelcolor='#222222', pad=2)
ax_a.fill_between(masker_a_f, -11, masker_a_pink, color='#f6bfd2', lw=0, zorder=0.5)
ax_a.fill_between(masker_a_f, -11, masker_a_brown, color='#b08f97', lw=0, zorder=0.6)
draw_curves(ax_a, a_gray)
draw_curves(ax_a, a_curves, a_rates)
draw_abr(ax_a)
ax_a.scatter([8], [80], s=135, fc='#e8ecec', ec=BLACK, lw=1.4, zorder=10)
ax_a.text(8, -7, 'Masker', fontsize=8.5, fontweight='bold', fontstyle='italic', color='#222222', ha='center', va='center', zorder=10)

# --- panel B (its first tick carries no label)
ax_b = px_axes(413, 750.5, 17.5, 244, zorder=2)
ax_b.set_xlim(2, 64)
ax_b.set_ylim(-11, 120)
style_top(ax_b, [''] + [str(t) for t in octave_ticks[1:]])
ax_b.spines['left'].set_visible(False)
ax_b.set_yticks([])
ax_b.fill_between(masker_b_f, -11, masker_b_pink, color='#f6bfd2', lw=0, zorder=0.5)
ax_b.fill_between(masker_b_f, -11, masker_b_brown, color='#b08f97', lw=0, zorder=0.6)
draw_curves(ax_b, b_gray)
draw_curves(ax_b, b_curves, b_rates)
draw_abr(ax_b)
ax_b.scatter([32], [79], s=135, fc='#e8ecec', ec=BLACK, lw=1.4, zorder=10)
ax_b.text(32, -7, 'Masker', fontsize=8.5, fontweight='bold', fontstyle='italic', color='#222222', ha='center', va='center', zorder=10)

# colour bar
cax = px_axes(740, 761, 45, 226.5, zorder=3)
cb = fig.colorbar(ScalarMappable(norm=plt.Normalize(0, 1200), cmap=RATE_CMAP), cax=cax)
cb.set_ticks([0, 200, 400, 600, 800, 1000, 1200])
cb.ax.tick_params(labelsize=6.8, length=2, width=0.6, pad=2, labelcolor='#222222')
cb.outline.set_edgecolor('#6b6b50')
cb.outline.set_linewidth(0.8)
over.text(797, 136, 'Firing Rate (spikes/s)', rotation=90, fontsize=11.5, ha='center', va='center', color='#222222')

# legend of the ABR curves
over.text(405, 219, 'ABR Control', fontsize=7.5, fontweight='bold', fontstyle='italic', color='#5f6b6b', va='center')
over.text(405, 232, 'ABR 120min', fontsize=7.5, fontweight='bold', fontstyle='italic', color='#f0506e', va='center')
over.scatter([475], [219], s=30, fc='none', ec='#4d5a5a', lw=1.2)
over.scatter([475], [232], s=30, fc='none', ec='#f0506e', lw=1.2)

# titles and panel letters
over.text(209, 16, '8kHz', fontsize=13.5, fontweight='bold', fontstyle='italic', ha='center', va='center', color='#222222')
over.text(607, 16, '32kHz', fontsize=13.5, fontweight='bold', fontstyle='italic', ha='center', va='center', color='#222222')
letters = {'A': (62, 15), 'B': (421, 15), 'C': (174, 288), 'D': (518, 288), 'E': (174, 505), 'F': (518, 505),
           'G': (174, 725), 'H': (518, 725), 'I': (174, 943), 'J': (517, 943)}
for letter, (lx, ly) in letters.items():
    over.text(lx, ly, letter, fontsize=17.5, fontweight='bold', ha='left', va='center', color='#1a1a1a')


def tint_of(ax, f, v, colour, regions, name):
    # points lying on a shaded ellipse take its tint
    px = ax.transData.transform(np.column_stack([f, v]))
    xs, ys = px[:, 0], H - px[:, 1]
    inside = np.zeros(len(f), dtype=bool)
    for cx, cy, w, h in regions:
        inside |= ((xs - cx) / (w / 2)) ** 2 + ((ys - cy) / (h / 2)) ** 2 <= 1
    return [TINTS[name][colour] if k else colour for k in inside]


def scatter_group(ax, data, colour, filled, regions, name):
    if not data:
        return
    pts = np.array(data, dtype=float).reshape(-1, 2)
    cols = tint_of(ax, pts[:, 0], pts[:, 1], colour, regions, name)
    z = {GRAY_PT: 3, BLACK: 5, RED: 4}[colour]
    if filled:
        ax.scatter(pts[:, 0], pts[:, 1], s=35, c=cols, linewidths=0, zorder=z, clip_on=False)
    else:
        ax.scatter(pts[:, 0], pts[:, 1], s=44, facecolors='none', edgecolors=cols, linewidths=1.0, zorder=z, clip_on=False)


def make_panel(x0, x1, y_top, y_bot, ylim, yticks, ylabels, log=False, xlabels=False):
    ax = px_axes(x0, x1, y_top, y_bot, zorder=2)
    ax.patch.set_visible(False)
    ax.set_xscale('log', base=2)
    ax.set_xlim(5.62, 45.6)
    if log:
        ax.set_yscale('log')
    ax.set_ylim(*ylim)
    ax.spines[['top', 'right']].set_visible(False)
    for side in ('left', 'bottom'):
        ax.spines[side].set_color(SPINE)
        ax.spines[side].set_linewidth(1.3)
    ax.set_xticks(freq_ticks)
    ax.xaxis.set_minor_locator(plt.NullLocator())
    ax.set_xticklabels([str(t) for t in freq_ticks] if xlabels else [], fontsize=10.5, color='#222222')
    ax.tick_params(axis='x', length=3, width=0.9, color=SPINE, pad=3)
    ax.set_yticks(yticks)
    if ylabels is not None:
        ax.set_yticklabels(ylabels, fontsize=10.5, color='#222222')
    else:
        ax.set_yticklabels([])
    ax.tick_params(axis='y', length=4, width=1, color=SPINE, pad=2)
    if log:
        ax.tick_params(axis='y', which='minor', length=2, width=0.7, color=SPINE, labelleft=False)
    return ax


LEFT = (165.7, 369)
RIGHT = (514, 718)
rows = [
    # y_top, y_bot, ylim, ticks, labels, log
    (286, 488.7, (-94, 1200), rate_ticks, [str(t) for t in rate_ticks], False),
    (501.7, 705.7, (0.0497, 155), fsl_ticks, fsl_labels, True),
    (717, 920.7, (0.822, 4.217), lat_ticks, [str(t) for t in lat_ticks], False),
    (939, 1142.7, (20, 70), noise_ticks, [str(t) for t in noise_ticks], False),
]
left_groups = [
    (c_gray_open, c_gray_fill, c_red_open, c_red_fill, c_black_open, c_black_fill),
    (e_gray_open, e_gray_fill, e_red_open, e_red_fill, e_black_open, e_black_fill),
    (g_gray_open, g_gray_fill, g_red_open, g_red_fill, g_black_open, g_black_fill),
    ([], [], i_red_open, i_red_fill, i_black_open, i_black_fill),
]
right_groups = [
    (d_gray_open, d_gray_fill, d_red_open, [], d_black_open, d_black_fill),
    (f_gray_open, f_gray_fill, f_red_open, [], f_black_open, f_black_fill),
    (h_gray_open, h_gray_fill, h_red_open, [], h_black_open, h_black_fill),
    ([], [], j_red_open, [], j_black_open, j_black_fill),
]
for i, (y_top, y_bot, ylim, ticks, labels, log) in enumerate(rows):
    ax_l = make_panel(*LEFT, y_top, y_bot, ylim, ticks, labels, log, xlabels=(i == 3))
    ax_r = make_panel(*RIGHT, y_top, y_bot, ylim, ticks, None, log, xlabels=(i == 3))
    for ax, grp, regions, name in [(ax_l, left_groups[i], cyan_regions, 'cyan'), (ax_r, right_groups[i], tan_regions, 'tan')]:
        g_o, g_f, r_o, r_f, b_o, b_f = grp
        scatter_group(ax, g_o, GRAY_PT, False, regions, name)
        scatter_group(ax, g_f, GRAY_PT, True, regions, name)
        scatter_group(ax, r_f, RED, True, regions, name)
        scatter_group(ax, b_f, BLACK, True, regions, name)
        scatter_group(ax, r_o, RED, False, regions, name)
        scatter_group(ax, b_o, BLACK, False, regions, name)

# axis titles
txt = '#222222'
over.text(12, 120, 'Level (dB SPL)', rotation=90, fontsize=13.5, ha='center', va='center', color=txt)
over.text(110, 381, 'Firing Rate (spikes/s)', rotation=90, fontsize=14, ha='center', va='center', color=txt)
over.text(112, 595, 'FSL Variance (ms\u00b2)', rotation=90, fontsize=14.5, ha='center', va='center', color=txt)
over.text(110, 822, 'First Spike Latency\n(ms)', rotation=90, fontsize=14, ha='center', va='center', color=txt, linespacing=1.15)
over.text(110, 1041, 'Noise Level at\nTotal Masking (dB SPL)', rotation=90, fontsize=14, ha='center', va='center', color=txt, linespacing=1.15)
over.text(262, 1173, 'Frequency (kHz)', fontsize=14, ha='center', va='center', color=txt)
over.text(626, 1173, 'Frequency (kHz)', fontsize=14, ha='center', va='center', color=txt)

# spike-rate class legend in panel C
over.text(404, 349, 'Low-SR', fontsize=7.5, fontweight='bold', fontstyle='italic', color='#222222', va='center')
over.text(404, 362, 'High-SR', fontsize=7.5, fontweight='bold', fontstyle='italic', color='#222222', va='center')
over.scatter([456], [348], s=20, c=BLACK, linewidths=0)
over.scatter([474], [348], s=20, c=RED, linewidths=0)
over.scatter([456], [361], s=22, fc='none', ec=BLACK, lw=0.9)
over.scatter([474], [361], s=22, fc='none', ec=RED, lw=0.9)
over.text(466, 325, 'Control', rotation=48, fontsize=7.5, fontweight='bold', fontstyle='italic', color='#222222', ha='center', va='center')
over.text(485, 325, '120min', rotation=48, fontsize=7.5, fontweight='bold', fontstyle='italic', color=RED, ha='center', va='center')
over.set_xlim(0, W)
over.set_ylim(H, 0)

fig.savefig('out.png', dpi=100)
